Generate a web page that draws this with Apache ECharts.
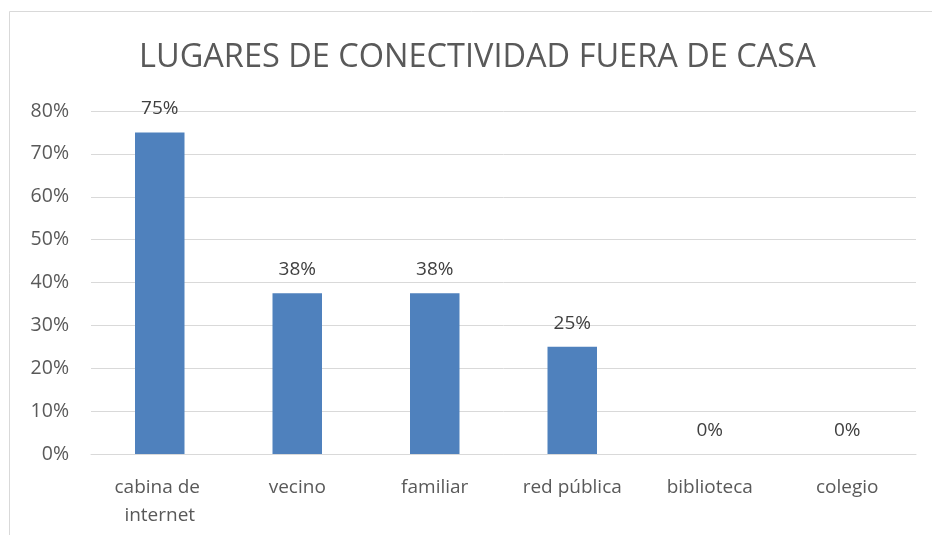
<!DOCTYPE html>
<html>
<head>
<meta charset="utf-8">
<script src="https://cdn.jsdelivr.net/npm/echarts@6/dist/echarts.min.js"></script>
<style>
  html, body { margin: 0; padding: 0; background: #fff; }
  #chart { width: 932px; height: 535px; }
</style>
</head>
<body>
<div id="chart"></div>
<script>
// datos
const categories = ['cabina de internet', 'vecino', 'familiar', 'red pública', 'biblioteca', 'colegio']
const values = [0.75, 0.375, 0.375, 0.25, 0, 0]
const yTicks = [0, 0.1, 0.2, 0.3, 0.4, 0.5, 0.6, 0.7, 0.8]

const font = '"Open Sans", sans-serif'
const chart = echarts.init(document.getElementById('chart'))

chart.setOption({
  animation: false,
  textStyle: { fontFamily: font },
  title: {
    text: 'LUGARES DE CONECTIVIDAD FUERA DE CASA',
    left: 134,
    top: 36,
    textStyle: { fontFamily: font, fontSize: 32.5, fontWeight: 'normal', color: '#595959' }
  },
  graphic: [{
    type: 'rect',
    shape: { x: 9.5, y: 11.5, width: 960, height: 600 },
    style: { fill: 'none', stroke: '#d9d9d9', lineWidth: 1 },
    silent: true
  }],
  grid: { left: 91, right: 16, top: 111, bottom: 81 },
  xAxis: {
    type: 'category',
    data: categories,
    axisLine: { lineStyle: { color: '#d9d9d9', width: 1 } },
    axisTick: { show: false },
    axisLabel: {
      interval: 0,
      color: '#595959',
      fontSize: 19,
      fontFamily: font,
      margin: 20,
      width: 110,
      overflow: 'break',
      lineHeight: 28
    }
  },
  yAxis: {
    type: 'value',
    min: yTicks[0],
    max: yTicks[yTicks.length - 1],
    interval: 0.1,
    axisLine: { show: false },
    axisTick: { show: false },
    axisLabel: {
      color: '#595959',
      fontSize: 19.5,
      fontFamily: font,
      margin: 22,
      formatter: v => Math.round(v * 100) + '%'
    },
    splitLine: { lineStyle: { color: '#d9d9d9', width: 1 } }
  },
  series: [{
    type: 'bar',
    data: values,
    barWidth: '36%',
    itemStyle: { color: '#4f81bd' },
    label: {
      show: true,
      position: 'top',
      distance: 14,
      color: '#404040',
      fontSize: 19,
      fontFamily: font,
      formatter: p => Math.round(p.value * 100) + '%'
    }
  }]
})
</script>
</body>
</html>
